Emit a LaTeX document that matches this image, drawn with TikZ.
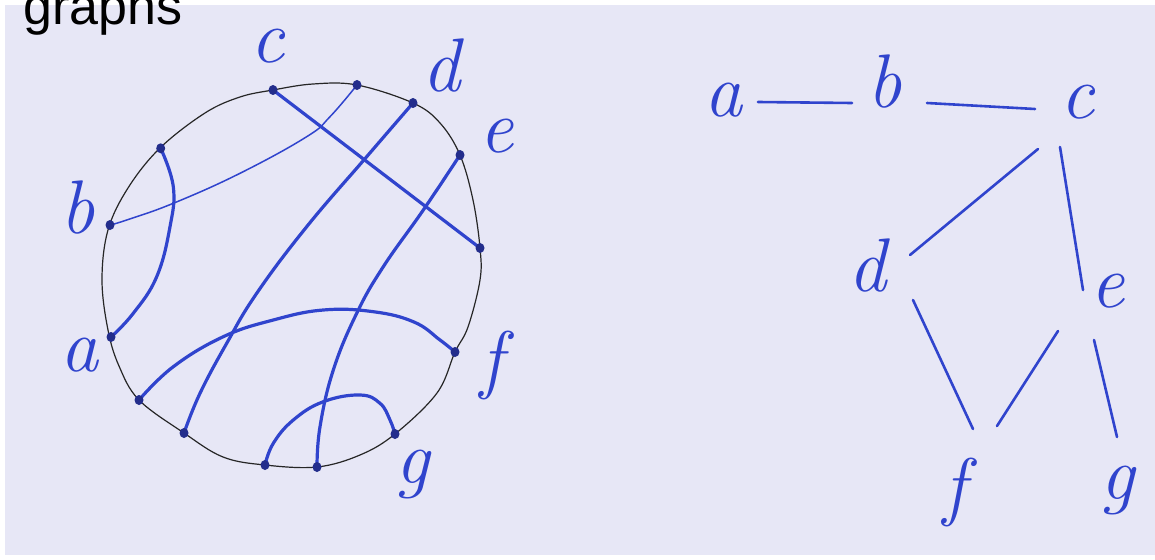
\documentclass[tikz,border=0pt]{standalone}
\usepackage{fontspec}
\newfontfamily\titlefont{Liberation Sans}
\definecolor{paper}{RGB}{231,231,246}
\definecolor{pen}{RGB}{48,68,205}
\definecolor{ink}{RGB}{35,45,140}
\tikzset{
  lbl/.style={text=pen, font=\fontsize{76}{76}\selectfont\itshape, inner sep=0pt},
  dotn/.style={ellipse, fill=ink, inner sep=0pt, minimum width=9pt, minimum height=10pt},
  chord/.style={draw=pen, line width=3.2pt, line cap=round},
  thinchord/.style={draw=pen, line width=1.5pt, line cap=round},
  rim/.style={draw=black!85, line width=1.2pt},
  gedge/.style={draw=pen, line width=2.6pt, line cap=round},
}
\usetikzlibrary{shapes.geometric}
\begin{document}
\begin{tikzpicture}[x=1pt,y=-1pt]
\useasboundingbox (0,0) rectangle (1155,559);
\fill[white] (0,0) rectangle (1155,559);
\fill[paper] (5,5) rectangle (1155,555);
\node[anchor=base west, inner sep=0pt, font=\fontsize{52}{52}\selectfont\titlefont] (title) at (23,25) {graphs};

% circle
\draw[rim] plot[smooth cycle, tension=0.6] coordinates {(273,90) (313,84) (357,85) (413,103) (440,123) (460,155) (473,200) (480,248) (480,280) (468,327) (455,352) (437,393) (395,434) (360,455) (317,467) (265,465) (223,457) (184,433) (139,400) (119,366) (108,330) (102,280) (108,230) (128,188) (160,148) (205,113) (240,97)};

% chords
\draw[chord] plot[smooth, tension=0.7] coordinates {(160.7,148.3) (173.3,186.7) (170,226.7) (156.7,276.7) (133.3,313.3) (111,337)};
\draw[thinchord] plot[smooth, tension=0.7] coordinates {(110,225) (126.7,220) (173.3,203.3) (240,173.3) (306.7,136.7) (330,116.7) (357,85)};
\draw[chord] (273,90) -- (480,248);
\draw[chord] plot[smooth, tension=0.7] coordinates {(413,103) (366.7,156.7) (306.7,226.7) (256.7,293.3) (226.7,343.3) (200,393.3) (184,433)};
\draw[chord] plot[smooth, tension=0.7] coordinates {(460,155) (423.3,210) (383.3,266.7) (356.7,313.3) (333.3,370) (320,426.7) (317,467)};
\draw[chord] plot[smooth, tension=0.7] coordinates {(139,400) (173.3,366.7) (223.3,336.7) (273.3,320) (323.3,310) (373.3,311.7) (414,322) (440,340) (455,352)};
\draw[chord] plot[smooth, tension=0.7] coordinates {(265,465) (273.3,443.3) (293.3,420) (323.3,401.7) (360,395) (380,403.3) (390,420) (395,434)};

% dots
\node[dotn] (pc) at (273,90) {};
\node[dotn] (ptr) at (357,85) {};
\node[dotn] (pd) at (413,103) {};
\node[dotn] (pe) at (460,155) {};
\node[dotn] (pr) at (480,248) {};
\node[dotn] (pf) at (455,352) {};
\node[dotn] (pg) at (395,434) {};
\node[dotn] (pb2) at (317,467) {};
\node[dotn] (pb1) at (265,465) {};
\node[dotn] (pl2) at (184,433) {};
\node[dotn] (pl1) at (139,400) {};
\node[dotn] (pa) at (111,337) {};
\node[dotn] (pb) at (110,225) {};
\node[dotn] (pu) at (160.7,148.3) {};

% circle labels
\node[lbl] (ca) at (79,355) {a};
\node[lbl] (cb) at (78,208) {b};
\node[lbl] (cc) at (268,46) {c};
\node[lbl] (cd) at (441,66) {d};
\node[lbl] (ce) at (497,136) {e};
\node[lbl] (cf) at (492,365) {f};
\node[lbl] (cg) at (413,474) {g};

% right graph labels
\node[lbl] (ga) at (723,100) {a};
\node[lbl] (gb) at (885,82) {b};
\node[lbl] (gc) at (1078,102) {c};
\node[lbl] (gd) at (867,266) {d};
\node[lbl] (ge) at (1108,291) {e};
\node[lbl] (gf) at (955,492) {f};
\node[lbl] (gg) at (1118,490) {g};

% edge end points
\coordinate (ab1) at (758,102); \coordinate (ab2) at (852,103);
\coordinate (bc1) at (927,103); \coordinate (bc2) at (1035,109);
\coordinate (cd1) at (1038,149); \coordinate (cd2) at (910,255);
\coordinate (ce1) at (1060,147); \coordinate (ce2) at (1083,290);
\coordinate (df1) at (913,300); \coordinate (df2) at (973,429);
\coordinate (ef1) at (1058,331); \coordinate (ef2) at (997,426);
\coordinate (eg1) at (1094,340); \coordinate (eg2) at (1117,437);
\draw[gedge] (ab1) -- (ab2);
\draw[gedge] (bc1) -- (bc2);
\draw[gedge] (cd1) -- (cd2);
\draw[gedge] (ce1) -- (ce2);
\draw[gedge] (df1) -- (df2);
\draw[gedge] (ef1) -- (ef2);
\draw[gedge] (eg1) -- (eg2);
\end{tikzpicture}
\end{document}
